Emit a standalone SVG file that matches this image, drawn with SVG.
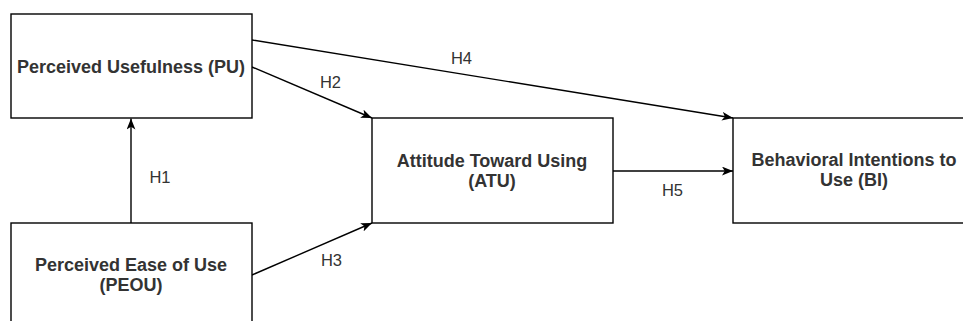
<svg xmlns="http://www.w3.org/2000/svg" width="963" height="321" viewBox="0 0 963 321">
<style>
.box{fill:#fff;stroke:#000;stroke-width:1.4}
.nt{font-family:"Liberation Sans",Arial,sans-serif;font-size:18px;font-weight:bold;fill:#333;text-anchor:middle}
.lbl{font-family:"Liberation Sans",Arial,sans-serif;font-size:16.5px;fill:#333;text-anchor:middle}
.edge{fill:none;stroke:#000;stroke-width:1.4}
</style>
<defs>
<marker id="arr" viewBox="0 0 10 8" refX="10" refY="4" markerWidth="11" markerHeight="9" markerUnits="userSpaceOnUse" orient="auto">
<path d="M0,0 L10,4 L0,8 L2.5,4 Z" fill="#000"/>
</marker>
</defs>
<rect width="963" height="321" fill="#fff"/>
<g id="connectors">
<g id="e-h1"><line class="edge" x1="131" y1="223" x2="131" y2="118.5" marker-end="url(#arr)"/><text class="lbl" x="160" y="183">H1</text></g>
<g id="e-h2"><line class="edge" x1="252" y1="67" x2="372" y2="118" marker-end="url(#arr)"/><text class="lbl" x="330.5" y="88">H2</text></g>
<g id="e-h3"><line class="edge" x1="252" y1="275" x2="372" y2="223" marker-end="url(#arr)"/><text class="lbl" x="331.5" y="266">H3</text></g>
<g id="e-h4"><line class="edge" x1="252" y1="40" x2="733" y2="118" marker-end="url(#arr)"/><text class="lbl" x="461.5" y="64">H4</text></g>
<g id="e-h5"><line class="edge" x1="613" y1="171" x2="733" y2="171" marker-end="url(#arr)"/><text class="lbl" x="672.5" y="196">H5</text></g>
</g>
<g id="pu"><rect class="box" x="11" y="14" width="241" height="104"/><text class="nt" x="131" y="72.5">Perceived Usefulness (PU)</text></g>
<g id="peou"><rect class="box" x="11" y="223" width="241" height="104"/><text class="nt" x="131" y="271">Perceived Ease of Use</text><text class="nt" x="131" y="291">(PEOU)</text></g>
<g id="atu"><rect class="box" x="372" y="118" width="241" height="105"/><text class="nt" x="492" y="166.5">Attitude Toward Using</text><text class="nt" x="492" y="186.5">(ATU)</text></g>
<g id="bi"><rect class="box" x="733" y="118" width="241" height="105"/><text class="nt" x="854" y="166">Behavioral Intentions to</text><text class="nt" x="854" y="186">Use (BI)</text></g>
</svg>
